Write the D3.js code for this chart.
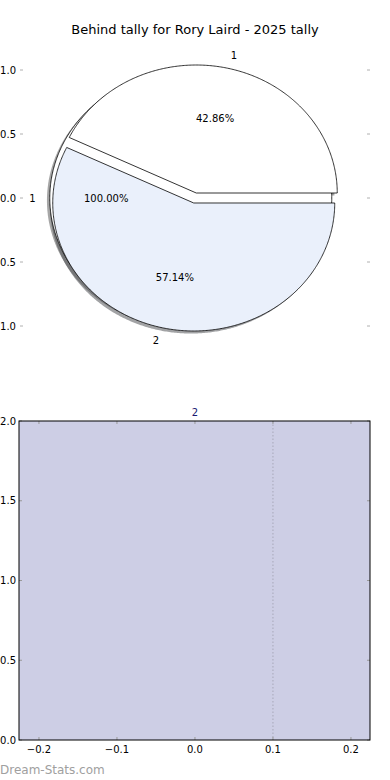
<!DOCTYPE html>
<html><head><meta charset="utf-8">
<script src="https://cdn.jsdelivr.net/npm/d3@7"></script>
<style>body{margin:0;background:#fff}svg{display:block}text{font-family:"DejaVu Sans",sans-serif}</style>
</head><body><div id="c"></div>
<script>
const title = "Behind tally for Rory Laird - 2025 tally";
const pieLabels = ["1", "2"];
const pieValues = [3, 4];
const pieColors = ["#ffffff", "#eaf0fb"];
const fullLabels = ["1"];
const fullValues = [1];
const pieYTicks = [1.0, 0.5, 0.0, -0.5, -1.0];
const barLabel = "2";
const lineX = [0.1];
const xTicks = [-0.2, -0.1, 0.0, 0.1, 0.2];
const yTicks = [0.0, 0.5, 1.0, 1.5, 2.0];
const watermark = "Dream-Stats.com";

const W = 390, H = 780;
const svg = d3.select("#c").append("svg").attr("width", W).attr("height", H);
const fmt = d => d3.format(".1f")(d).replace("-", "\u2212");

// ---- top: pie axes
const px = d3.scaleLinear().domain([-1.227, 1.227]).range([22, 368]);
const py = d3.scaleLinear().domain([-1, 1]).range([326, 70]);

svg.append("text").attr("x", 195).attr("y", 34).attr("text-anchor", "middle")
  .attr("font-size", 13).text(title);

const tg = svg.append("g");
pieYTicks.forEach(t => {
  tg.append("line").attr("x1", 20).attr("x2", 23).attr("y1", py(t)).attr("y2", py(t)).attr("stroke", "#b0b0b0");
  tg.append("line").attr("x1", 367).attr("x2", 370).attr("y1", py(t)).attr("y2", py(t)).attr("stroke", "#b0b0b0");
  tg.append("text").attr("x", 16).attr("y", py(t)).attr("dy", "0.35em").attr("text-anchor", "end")
    .attr("font-size", 10).text(fmt(t));
});

function wedgePath(cx, cy, a0, a1, ox, oy) {
  const n = Math.max(4, Math.ceil((a1 - a0) / 0.01));
  const pts = [[cx, cy]];
  for (let i = 0; i <= n; i++) {
    const a = a0 + (a1 - a0) * i / n;
    pts.push([cx + Math.cos(a), cy + Math.sin(a)]);
  }
  const full = (a1 - a0) >= 2 * Math.PI - 1e-6;
  const use = full ? pts.slice(1) : pts;
  return d3.line().x(d => px(d[0]) + (ox || 0)).y(d => py(d[1]) + (oy || 0))(use) + "Z";
}

const pie = d3.pie().sort(null).startAngle(0).endAngle(2 * Math.PI);
const fullArcs = pie(fullValues).map((d, i) => ({...d, label: fullLabels[i], color: "#ffffff", explode: 0.03}));
const mainArcs = pie(pieValues).map((d, i) => ({...d, label: pieLabels[i], color: pieColors[i], explode: 0.04}));
const all = fullArcs.concat(mainArcs);
all.forEach(d => {
  const mid = (d.startAngle + d.endAngle) / 2;
  d.cx = d.explode * Math.cos(mid); d.cy = d.explode * Math.sin(mid); d.mid = mid;
});

const shadowG = svg.append("g");
all.forEach(d => {
  const c = d3.color(d.color);
  const sc = d3.rgb(c.r * 0.3, c.g * 0.3, c.b * 0.3);
  shadowG.append("path").attr("d", wedgePath(d.cx - 0.02, d.cy - 0.02, d.startAngle, d.endAngle))
    .attr("fill", sc).attr("fill-opacity", 0.5).attr("stroke", "none");
});
const wg = svg.append("g");
all.forEach(d => {
  wg.append("path").attr("d", wedgePath(d.cx, d.cy, d.startAngle, d.endAngle))
    .attr("fill", d.color).attr("stroke", "#000").attr("stroke-width", 0.8).attr("stroke-linejoin", "miter");
});
const lg = svg.append("g");
all.forEach(d => {
  const lx = d.cx + 1.1 * Math.cos(d.mid), ly = d.cy + 1.1 * Math.sin(d.mid);
  lg.append("text").attr("x", px(lx)).attr("y", py(ly)).attr("dy", "0.35em")
    .attr("text-anchor", lx > 0 ? "start" : "end").attr("font-size", 10).text(d.label);
  const qx = d.cx + 0.6 * Math.cos(d.mid), qy = d.cy + 0.6 * Math.sin(d.mid);
  const tot = d3.sum(d === all[0] ? fullValues : pieValues);
  lg.append("text").attr("x", px(qx)).attr("y", py(qy)).attr("dy", "0.35em")
    .attr("text-anchor", "middle").attr("font-size", 10).text((100 * d.value / tot).toFixed(2) + "%");
});

// ---- bottom axes
const L = 19, R = 370, T = 421, B = 740;
const x = d3.scaleLinear().domain([-0.2256, 0.2244]).range([L, R]);
const y = d3.scaleLinear().domain([0, 2]).range([B, T]);
const bg = svg.append("g");
bg.append("rect").attr("x", L).attr("y", T).attr("width", R - L).attr("height", B - T).attr("fill", "#cdcee5");
lineX.forEach(v => bg.append("line").attr("x1", x(v)).attr("x2", x(v)).attr("y1", T).attr("y2", B)
  .attr("stroke", "#a8a8b8").attr("stroke-dasharray", "1.5,2"));
xTicks.forEach(t => {
  bg.append("line").attr("x1", x(t)).attr("x2", x(t)).attr("y1", B).attr("y2", B - 3).attr("stroke", "#999");
  bg.append("line").attr("x1", x(t)).attr("x2", x(t)).attr("y1", T).attr("y2", T + 3).attr("stroke", "#999");
  bg.append("text").attr("x", x(t)).attr("y", B + 13).attr("text-anchor", "middle").attr("font-size", 10).text(fmt(t));
});
yTicks.forEach(t => {
  bg.append("line").attr("x1", L).attr("x2", L + 3).attr("y1", y(t)).attr("y2", y(t)).attr("stroke", "#999");
  bg.append("line").attr("x1", R).attr("x2", R - 3).attr("y1", y(t)).attr("y2", y(t)).attr("stroke", "#999");
  bg.append("text").attr("x", 16).attr("y", y(t)).attr("dy", "0.35em").attr("text-anchor", "end").attr("font-size", 10).text(fmt(t));
});
bg.append("rect").attr("x", L).attr("y", T).attr("width", R - L).attr("height", B - T)
  .attr("fill", "none").attr("stroke", "#000").attr("stroke-width", 1);
bg.append("text").attr("x", x(0)).attr("y", T - 5).attr("text-anchor", "middle").attr("font-size", 10)
  .attr("fill", "#191970").text(barLabel);

svg.append("text").attr("x", 0).attr("y", 774).attr("font-size", 12).attr("fill", "#a0a0a0").text(watermark);
</script></body></html>
